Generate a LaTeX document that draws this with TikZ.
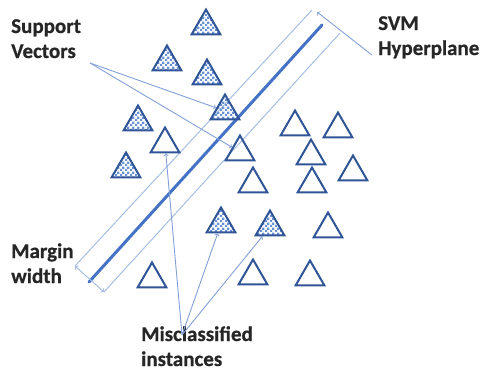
\documentclass[tikz,border=0pt]{standalone}
\usepackage{fontspec}
\setmainfont{Carlito}[BoldFont={Carlito Bold}, BoldFeatures={FakeBold=0.6}]
\usetikzlibrary{shapes.geometric, arrows, patterns}
\definecolor{tridark}{RGB}{47,85,151}
\definecolor{tribright}{RGB}{105,145,212}
\definecolor{hyperblue}{RGB}{68,114,196}
\definecolor{marginblue}{RGB}{165,190,228}
\definecolor{arrowblue}{RGB}{130,160,215}
\pgfdeclarepatternformonly{finechecker}{\pgfpointorigin}{\pgfqpoint{5pt}{5pt}}{\pgfqpoint{5pt}{5pt}}{%
  \pgfpathrectangle{\pgfpointorigin}{\pgfqpoint{2.5pt}{2.5pt}}%
  \pgfpathrectangle{\pgfqpoint{2.5pt}{2.5pt}}{\pgfqpoint{2.5pt}{2.5pt}}%
  \pgfusepath{fill}}
\tikzstyle{emptytri} = [regular polygon, regular polygon sides=3, minimum size=33pt, inner sep=0pt, draw=tridark, line width=2pt]
\tikzstyle{filledtri} = [emptytri, pattern=finechecker, pattern color=tribright]
\tikzstyle{notetext} = [anchor=base west, align=left, inner sep=0pt, text=black!85, font=\fontsize{21}{25}\selectfont\bfseries]
\tikzstyle{pointer} = [arrowblue, line width=0.9pt, ->, >=to]
\tikzstyle{margin} = [marginblue, line width=1pt]
\tikzstyle{hyperplane} = [hyperblue, line width=3pt, line cap=round]

\begin{document}
\begin{tikzpicture}[x=1pt, y=-1pt]
        \useasboundingbox (0,0) rectangle (481,391);
        \coordinate (mtop) at (312,10);
        \coordinate (mup) at (75,266);
        \coordinate (ltop) at (340,33);
        \coordinate (mlow) at (104,292);
        \coordinate (htop) at (322,25);
        \coordinate (hlow) at (89,282);
        \draw [margin] (mup) -- (mtop);
        \draw [margin] (mlow) -- (ltop);
        \draw [hyperplane] (hlow) -- (htop);
        \draw [margin, <->, >=to] (mup) -- (mlow);

        \node (f1) [filledtri] at (206,26) {};
        \node (f2) [filledtri] at (167,62) {};
        \node (f3) [filledtri] at (207,76) {};
        \node (f4) [filledtri] at (225,111) {};
        \node (f5) [filledtri] at (138,122) {};
        \node (f6) [filledtri] at (126,169) {};
        \node (f7) [filledtri] at (221,224) {};
        \node (f8) [filledtri] at (270,227) {};

        \node (e1) [emptytri] at (165,144) {};
        \node (e2) [emptytri] at (240,152) {};
        \node (e3) [emptytri] at (295,127) {};
        \node (e4) [emptytri] at (338,129) {};
        \node (e5) [emptytri] at (311,156) {};
        \node (e6) [emptytri] at (253,184) {};
        \node (e7) [emptytri] at (312,184) {};
        \node (e8) [emptytri] at (353,172) {};
        \node (e9) [emptytri] at (328,229) {};
        \node (e10) [emptytri] at (253,276) {};
        \node (e11) [emptytri] at (310,277) {};
        \node (e12) [emptytri] at (152,279) {};

        \node (support) [notetext] at (11,58) {Support\\Vectors};
        \node (svm) [notetext] at (378,55) {SVM\\Hyperplane};
        \node (width) [notetext] at (11,283) {Margin\\width};
        \node (miss) [notetext] at (141,366) {Misclassified\\instances};

        \coordinate (supfrom) at (90,63);
        \coordinate (svmfrom) at (372,55);
        \coordinate (svmtip) at (317,12);
        \coordinate (missfrom) at (182,335);
        \draw [pointer] (supfrom) -- (f4);
        \draw [pointer] (supfrom) -- (e2);
        \draw [pointer] (svmfrom) -- (svmtip);
        \draw [pointer] (missfrom) -- (e1);
        \draw [pointer] (missfrom) -- (f7);
        \draw [pointer] (missfrom) -- (f8);
    \end{tikzpicture}
\end{document}
